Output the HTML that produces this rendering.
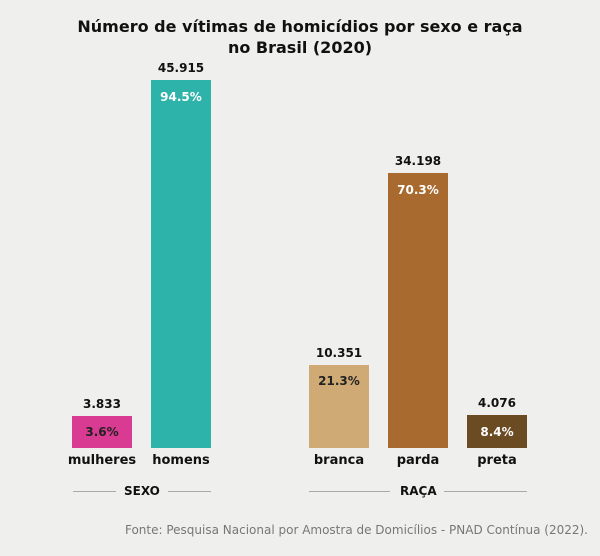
<!DOCTYPE html><html><head><meta charset="utf-8"><style>
body{margin:0;width:600px;height:556px;background:#efefed;font-family:"DejaVu Sans","Liberation Sans",sans-serif;position:relative;overflow:hidden}
.t{position:absolute;left:0;width:600px;text-align:center;font-weight:bold;font-size:16px;color:#111}
.b{position:absolute}
.v,.p,.l{position:absolute;width:80px;text-align:center;font-weight:bold;font-size:12px;color:#111}
.l{font-size:13px}
.p{font-size:12px}
.ln{position:absolute;height:1px;background:#aaa;top:491px}
.g{position:absolute;top:484px;font-weight:bold;font-size:12px;color:#111}
</style></head><body>
<div class="t" style="top:17px">Número de vítimas de homicídios por sexo e raça</div>
<div class="t" style="top:38px">no Brasil (2020)</div>

<div class="b" style="left:72px;top:416px;width:60px;height:32px;background:#d93a92"></div>
<div class="b" style="left:151px;top:80px;width:60px;height:368px;background:#2db3a9"></div>
<div class="b" style="left:309px;top:365px;width:60px;height:83px;background:#cfaa74"></div>
<div class="b" style="left:388px;top:173px;width:60px;height:275px;background:#a86a2e"></div>
<div class="b" style="left:467px;top:415px;width:60px;height:33px;background:#6a4b22"></div>

<div class="v" style="left:62px;top:397px">3.833</div>
<div class="v" style="left:141px;top:61px">45.915</div>
<div class="v" style="left:299px;top:346px">10.351</div>
<div class="v" style="left:378px;top:154px">34.198</div>
<div class="v" style="left:457px;top:396px">4.076</div>

<div class="p" style="left:62px;top:425px;color:#222">3.6%</div>
<div class="p" style="left:141px;top:90px;color:#fff">94.5%</div>
<div class="p" style="left:299px;top:374px;color:#222">21.3%</div>
<div class="p" style="left:378px;top:183px;color:#fff">70.3%</div>
<div class="p" style="left:457px;top:425px;color:#fff">8.4%</div>

<div class="l" style="left:62px;top:453px">mulheres</div>
<div class="l" style="left:141px;top:453px">homens</div>
<div class="l" style="left:299px;top:453px">branca</div>
<div class="l" style="left:378px;top:453px">parda</div>
<div class="l" style="left:457px;top:453px">preta</div>

<div class="ln" style="left:73px;width:43px"></div>
<div class="g" style="left:124px">SEXO</div>
<div class="ln" style="left:168px;width:43px"></div>
<div class="ln" style="left:309px;width:81px"></div>
<div class="g" style="left:400px">RAÇA</div>
<div class="ln" style="left:444px;width:83px"></div>

<div style="position:absolute;left:0;width:588px;text-align:right;top:523px;font-size:12px;color:#777">Fonte: Pesquisa Nacional por Amostra de Domicílios - PNAD Contínua (2022).</div>
</body></html>
